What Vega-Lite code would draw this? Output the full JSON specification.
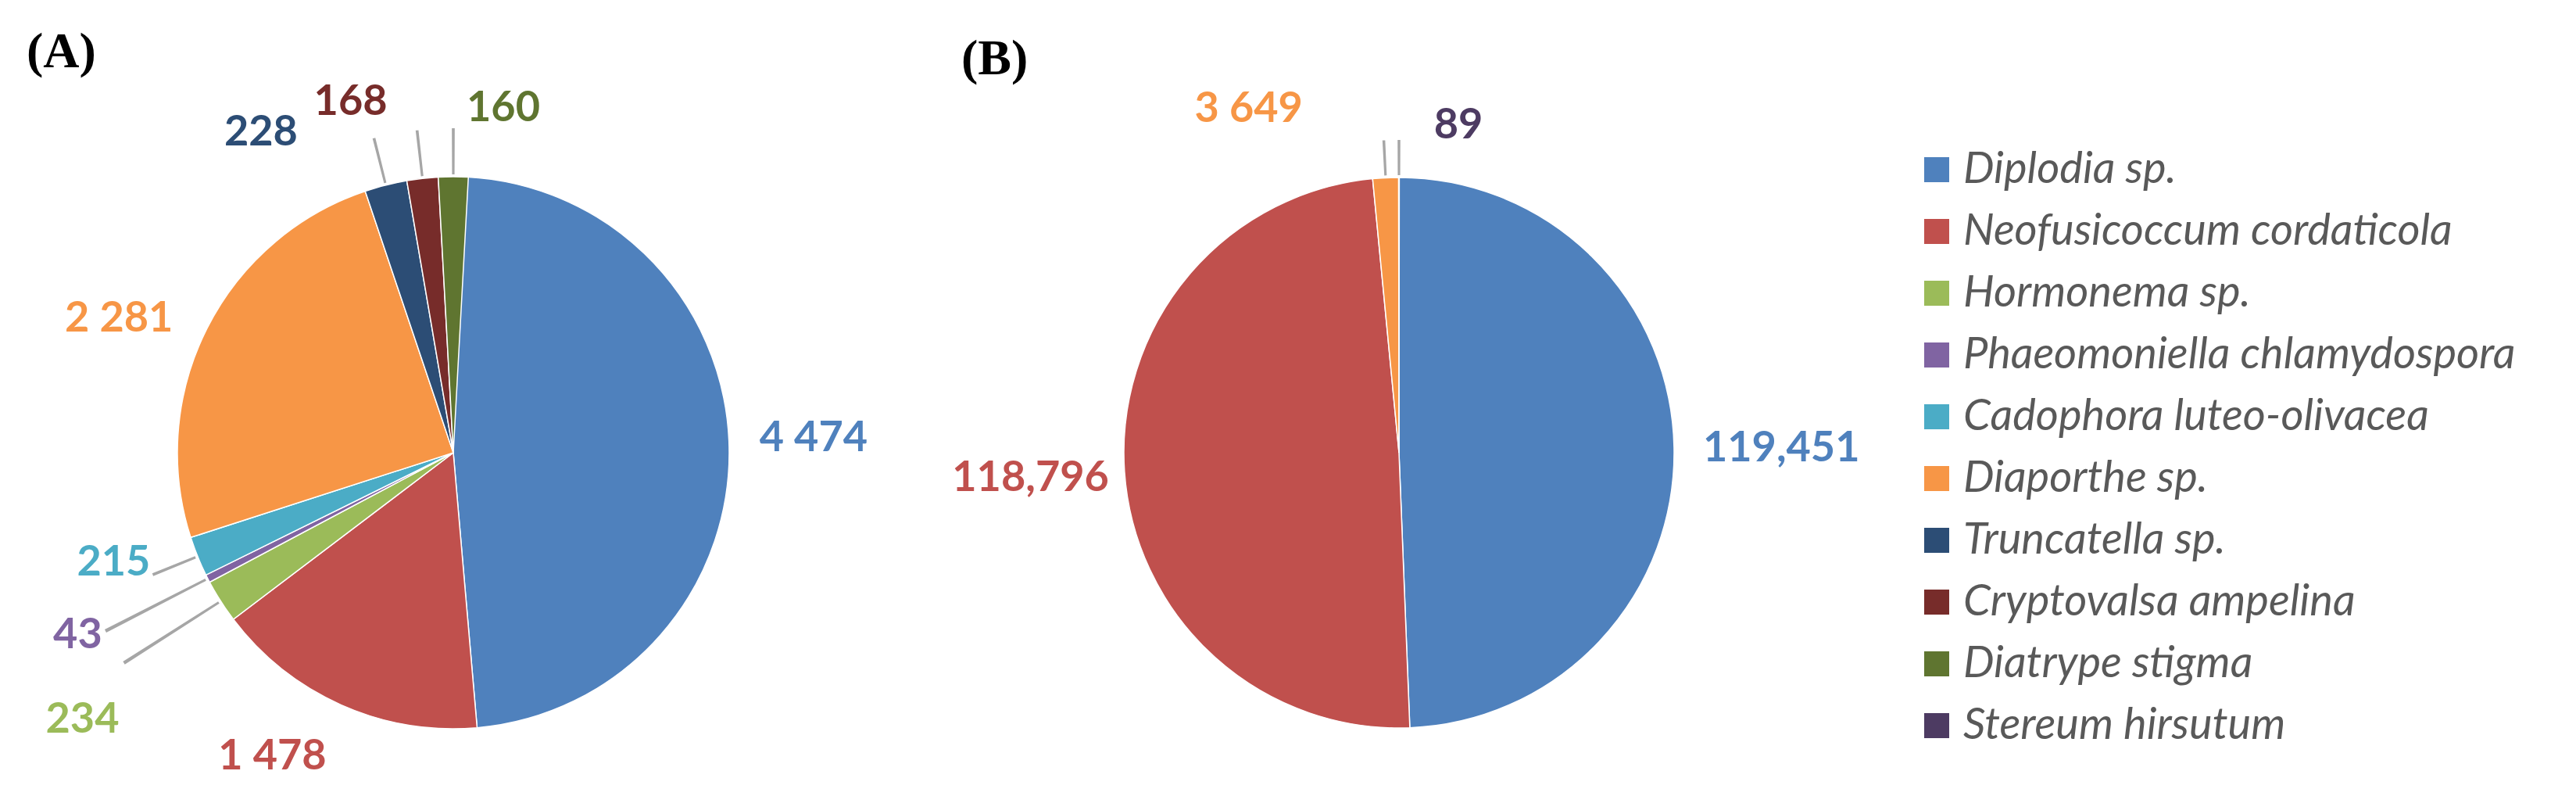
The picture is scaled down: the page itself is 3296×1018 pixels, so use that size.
{
  "$schema": "https://vega.github.io/schema/vega-lite/v6.json",
  "background": "white",
  "padding": {"left": 0, "right": 0, "top": 34, "bottom": 0},
  "spacing": 20,
  "config": {"view": {"stroke": null}},
  "data": {"values": [
    {"panel": "A", "species": "Diplodia sp.", "value": 4474, "label": "4 474", "order": 1},
    {"panel": "A", "species": "Neofusicoccum cordaticola", "value": 1478, "label": "1 478", "order": 2},
    {"panel": "A", "species": "Hormonema sp.", "value": 234, "label": "234", "order": 3},
    {"panel": "A", "species": "Phaeomoniella chlamydospora", "value": 43, "label": "43", "order": 4},
    {"panel": "A", "species": "Cadophora luteo-olivacea", "value": 215, "label": "215", "order": 5},
    {"panel": "A", "species": "Diaporthe sp.", "value": 2281, "label": "2 281", "order": 6},
    {"panel": "A", "species": "Truncatella sp.", "value": 228, "label": "228", "order": 7},
    {"panel": "A", "species": "Cryptovalsa ampelina", "value": 168, "label": "168", "order": 8},
    {"panel": "A", "species": "Diatrype stigma", "value": 160, "label": "160", "order": 9},
    {"panel": "B", "species": "Diplodia sp.", "value": 119451, "label": "119,451", "order": 1},
    {"panel": "B", "species": "Neofusicoccum cordaticola", "value": 118796, "label": "118,796", "order": 2},
    {"panel": "B", "species": "Diaporthe sp.", "value": 3649, "label": "3 649", "order": 3},
    {"panel": "B", "species": "Stereum hirsutum", "value": 89, "label": "89", "order": 4}
  ]},
  "resolve": {"scale": {"color": "shared", "theta": "independent"}},
  "hconcat": [
    {
      "title": {"text": "(A)", "anchor": "start", "frame": "group", "font": "Liberation Serif", "fontSize": 64, "fontWeight": "bold", "color": "#000000", "dx": 34, "offset": 5},
      "width": 1160,
      "height": 874,
      "transform": [
        {"filter": "datum.panel === 'A'"},
        {"window": [{"op": "sum", "field": "value", "as": "cum"}], "sort": [{"field": "order"}], "frame": [null, 0]},
        {"joinaggregate": [{"op": "sum", "field": "value", "as": "total"}]},
        {"calculate": "datum.cum - datum.value", "as": "start"},
        {"calculate": "datum.cum - datum.value / 2", "as": "mid"},
        {"calculate": "datum.mid - datum.total * 0.0007", "as": "ls"},
        {"calculate": "datum.mid + datum.total * 0.0007", "as": "le"}
      ],
      "layer": [
        {
          "mark": {"type": "arc", "radius": 353, "stroke": "#ffffff", "strokeWidth": 1.5},
          "encoding": {
            "theta": {"field": "start", "type": "quantitative", "stack": null, "scale": {"nice": false, "zero": true}},
            "theta2": {"field": "cum"},
            "color": {
              "field": "species", "type": "nominal",
              "scale": {
                "domain": ["Diplodia sp.", "Neofusicoccum cordaticola", "Hormonema sp.", "Phaeomoniella chlamydospora", "Cadophora luteo-olivacea", "Diaporthe sp.", "Truncatella sp.", "Cryptovalsa ampelina", "Diatrype stigma", "Stereum hirsutum"],
                "range": ["#4F81BD", "#C0504D", "#9BBB59", "#8064A2", "#4BACC6", "#F79646", "#2C4D75", "#772C2A", "#5F7530", "#4D3B62"]
              },
              "legend": {
                "title": null, "orient": "none", "legendX": 2450, "legendY": 47,
                "symbolType": "square", "symbolSize": 1024, "symbolStrokeWidth": 0, "symbolOpacity": 1,
                "labelFont": "Lato", "labelFontStyle": "italic", "labelFontSize": 56, "labelColor": "#595959",
                "labelOffset": 6, "rowPadding": 23, "labelLimit": 1000
              }
            }
          }
        },
        {
          "transform": [{"filter": {"field": "species", "oneOf": ["Hormonema sp.", "Phaeomoniella chlamydospora"]}}],
          "mark": {"type": "arc", "radius": 356, "radius2": 500, "color": "#A6A6A6"},
          "encoding": {
            "theta": {"field": "ls", "type": "quantitative", "stack": null},
            "theta2": {"field": "le"}
          }
        },
        {
          "transform": [{"filter": {"field": "species", "oneOf": ["Cadophora luteo-olivacea", "Truncatella sp.", "Cryptovalsa ampelina", "Diatrype stigma"]}}],
          "mark": {"type": "arc", "radius": 356, "radius2": 415, "color": "#A6A6A6"},
          "encoding": {
            "theta": {"field": "ls", "type": "quantitative", "stack": null},
            "theta2": {"field": "le"}
          }
        },
        {
          "transform": [{"filter": "datum.species === 'Diplodia sp.'"}],
          "mark": {"type": "text", "radius": 392, "align": "left", "baseline": "middle", "dy": -1, "font": "Lato", "fontSize": 54, "fontWeight": "bold"},
          "encoding": {"theta": {"field": "mid", "type": "quantitative", "stack": null}, "text": {"field": "label"}, "color": {"field": "species", "type": "nominal", "legend": null}}
        },
        {
          "transform": [{"filter": "datum.species === 'Neofusicoccum cordaticola'"}],
          "mark": {"type": "text", "radius": 420, "align": "center", "baseline": "middle", "dx": -61, "dy": 5, "font": "Lato", "fontSize": 54, "fontWeight": "bold"},
          "encoding": {"theta": {"field": "mid", "type": "quantitative", "stack": null}, "text": {"field": "label"}, "color": {"field": "species", "type": "nominal", "legend": null}}
        },
        {
          "transform": [{"filter": "datum.species === 'Hormonema sp.'"}],
          "mark": {"type": "text", "radius": 570, "align": "center", "baseline": "middle", "dx": 6, "dy": 35, "font": "Lato", "fontSize": 54, "fontWeight": "bold"},
          "encoding": {"theta": {"field": "mid", "type": "quantitative", "stack": null}, "text": {"field": "label"}, "color": {"field": "species", "type": "nominal", "legend": null}}
        },
        {
          "transform": [{"filter": "datum.species === 'Phaeomoniella chlamydospora'"}],
          "mark": {"type": "text", "radius": 531, "align": "center", "baseline": "middle", "dx": -8, "dy": -8, "font": "Lato", "fontSize": 54, "fontWeight": "bold"},
          "encoding": {"theta": {"field": "mid", "type": "quantitative", "stack": null}, "text": {"field": "label"}, "color": {"field": "species", "type": "nominal", "legend": null}}
        },
        {
          "transform": [{"filter": "datum.species === 'Cadophora luteo-olivacea'"}],
          "mark": {"type": "text", "radius": 470, "align": "center", "baseline": "middle", "dx": 1, "dy": -36, "font": "Lato", "fontSize": 54, "fontWeight": "bold"},
          "encoding": {"theta": {"field": "mid", "type": "quantitative", "stack": null}, "text": {"field": "label"}, "color": {"field": "species", "type": "nominal", "legend": null}}
        },
        {
          "transform": [{"filter": "datum.species === 'Diaporthe sp.'"}],
          "mark": {"type": "text", "radius": 460, "align": "center", "baseline": "middle", "dx": -17, "dy": 36, "font": "Lato", "fontSize": 54, "fontWeight": "bold"},
          "encoding": {"theta": {"field": "mid", "type": "quantitative", "stack": null}, "text": {"field": "label"}, "color": {"field": "species", "type": "nominal", "legend": null}}
        },
        {
          "transform": [{"filter": "datum.species === 'Truncatella sp.'"}],
          "mark": {"type": "text", "radius": 450, "align": "center", "baseline": "middle", "dx": -136, "dy": 27, "font": "Lato", "fontSize": 54, "fontWeight": "bold"},
          "encoding": {"theta": {"field": "mid", "type": "quantitative", "stack": null}, "text": {"field": "label"}, "color": {"field": "species", "type": "nominal", "legend": null}}
        },
        {
          "transform": [{"filter": "datum.species === 'Cryptovalsa ampelina'"}],
          "mark": {"type": "text", "radius": 460, "align": "center", "baseline": "middle", "dx": -80, "dy": 9, "font": "Lato", "fontSize": 54, "fontWeight": "bold"},
          "encoding": {"theta": {"field": "mid", "type": "quantitative", "stack": null}, "text": {"field": "label"}, "color": {"field": "species", "type": "nominal", "legend": null}}
        },
        {
          "transform": [{"filter": "datum.species === 'Diatrype stigma'"}],
          "mark": {"type": "text", "radius": 440, "align": "center", "baseline": "middle", "dx": 64, "font": "Lato", "fontSize": 54, "fontWeight": "bold"},
          "encoding": {"theta": {"field": "mid", "type": "quantitative", "stack": null}, "text": {"field": "label"}, "color": {"field": "species", "type": "nominal", "legend": null}}
        }
      ]
    },
    {
      "title": {"text": "(B)", "anchor": "start", "frame": "group", "font": "Liberation Serif", "fontSize": 64, "fontWeight": "bold", "color": "#000000", "dx": 50, "offset": 5},
      "width": 1220,
      "height": 874,
      "transform": [
        {"filter": "datum.panel === 'B'"},
        {"window": [{"op": "sum", "field": "value", "as": "cum"}], "sort": [{"field": "order"}], "frame": [null, 0]},
        {"joinaggregate": [{"op": "sum", "field": "value", "as": "total"}]},
        {"calculate": "datum.cum - datum.value", "as": "start"},
        {"calculate": "datum.cum - datum.value / 2", "as": "mid"},
        {"calculate": "datum.mid - datum.total * 0.0007", "as": "ls"},
        {"calculate": "datum.mid + datum.total * 0.0007", "as": "le"}
      ],
      "layer": [
        {
          "mark": {"type": "arc", "radius": 352, "stroke": "#ffffff", "strokeWidth": 1.5},
          "encoding": {
            "theta": {"field": "start", "type": "quantitative", "stack": null, "scale": {"nice": false, "zero": true}},
            "theta2": {"field": "cum"},
            "color": {"field": "species", "type": "nominal", "legend": null}
          }
        },
        {
          "transform": [{"filter": {"field": "species", "oneOf": ["Diaporthe sp.", "Stereum hirsutum"]}}],
          "mark": {"type": "arc", "radius": 355, "radius2": 400, "color": "#A6A6A6"},
          "encoding": {
            "theta": {"field": "ls", "type": "quantitative", "stack": null},
            "theta2": {"field": "le"}
          }
        },
        {
          "transform": [{"filter": "datum.species === 'Diplodia sp.'"}],
          "mark": {"type": "text", "radius": 389, "align": "left", "baseline": "middle", "dy": 3, "font": "Lato", "fontSize": 54, "fontWeight": "bold"},
          "encoding": {"theta": {"field": "mid", "type": "quantitative", "stack": null}, "text": {"field": "label"}, "color": {"field": "species", "type": "nominal", "legend": null}}
        },
        {
          "transform": [{"filter": "datum.species === 'Neofusicoccum cordaticola'"}],
          "mark": {"type": "text", "radius": 372, "align": "right", "baseline": "middle", "dy": 8, "font": "Lato", "fontSize": 54, "fontWeight": "bold"},
          "encoding": {"theta": {"field": "mid", "type": "quantitative", "stack": null}, "text": {"field": "label"}, "color": {"field": "species", "type": "nominal", "legend": null}}
        },
        {
          "transform": [{"filter": "datum.species === 'Diaporthe sp.'"}],
          "mark": {"type": "text", "radius": 440, "align": "center", "baseline": "middle", "dx": -171, "font": "Lato", "fontSize": 54, "fontWeight": "bold"},
          "encoding": {"theta": {"field": "mid", "type": "quantitative", "stack": null}, "text": {"field": "label"}, "color": {"field": "species", "type": "nominal", "legend": null}}
        },
        {
          "transform": [{"filter": "datum.species === 'Stereum hirsutum'"}],
          "mark": {"type": "text", "radius": 418, "align": "center", "baseline": "middle", "dx": 76, "font": "Lato", "fontSize": 54, "fontWeight": "bold"},
          "encoding": {"theta": {"field": "mid", "type": "quantitative", "stack": null}, "text": {"field": "label"}, "color": {"field": "species", "type": "nominal", "legend": null}}
        }
      ]
    }
  ]
}
